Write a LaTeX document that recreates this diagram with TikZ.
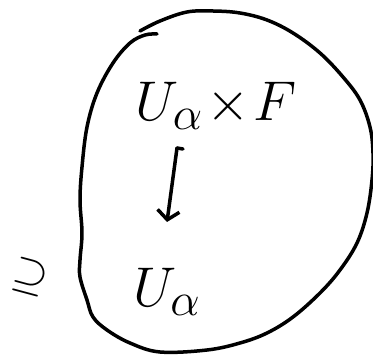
\documentclass[tikz,border=0pt]{standalone}
\usetikzlibrary{arrows.meta}
\tikzset{
  ink/.style={line width=3.5pt, line cap=round, line join=round, black},
  bigmath/.style={inner sep=0pt, font=\Huge, scale=2.25},
}
\begin{document}
\begin{tikzpicture}[x=1pt,y=-1pt]
\useasboundingbox (0,0) rectangle (373,358);
% blob
\draw[ink] plot[smooth, tension=0.6] coordinates {
  (140,31) (160,21) (187,12) (213,11) (240,13) (267,20) (293,33) (320,53)
  (343,77) (360,100) (370,127) (373,153) (372,180) (367,213) (357,243)
  (340,270) (320,293) (293,317) (267,333) (240,343) (207,350) (160,352)
  (130,343) (107,330) (93,317) (87,300) (80,277) (80,260) (82,233) (80,200)
  (82,167) (87,127) (97,93) (113,63) (130,43) (145,35) (157,34)};
% texts
\node[bigmath] (top) at (216,106) {$U_\alpha \!\mathbin{\times}\! F$};
\node[bigmath] (bot) at (167,292) {$U_\alpha$};
\node[inner sep=0pt, font=\Huge, scale=1.8, rotate=-15] (sup) at (30,277) {$\supseteq$};
% arrow
\coordinate (a1) at (177,148);
\coordinate (a2) at (167,222);
\draw[ink, -{Straight Barb[length=9pt,width=22pt,line width=3.5pt]}] (a1) -- (a2);
\draw[ink] (a1) -- +(6,1);
\end{tikzpicture}
\end{document}
